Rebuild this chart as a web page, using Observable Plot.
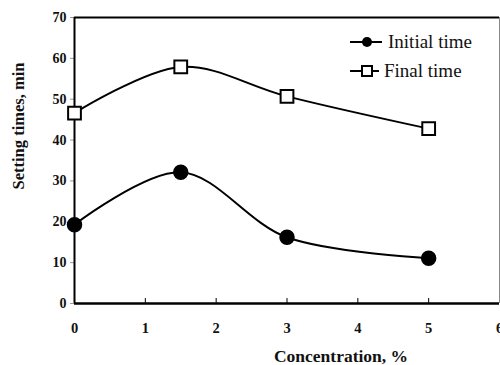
<!DOCTYPE html>
<html>
<head>
<meta charset="utf-8">
<script src="https://cdn.jsdelivr.net/npm/d3@7"></script>
<script src="https://cdn.jsdelivr.net/npm/@observablehq/plot@0.6"></script>
<style>
  html, body { margin: 0; padding: 0; background: #fff; }
  #wrap { position: relative; width: 500px; height: 365px; }
  #legend { position: absolute; left: 0; top: 0; pointer-events: none; }
</style>
</head>
<body>
<div id="wrap"></div>
<script>
const concentration = [0, 1.5, 3, 5];
const initialTime = [19.3, 32.1, 16.2, 11.1];
const finalTime = [46.6, 57.9, 50.7, 42.8];
const xTicks = [0, 1, 2, 3, 4, 5, 6];
const yTicks = [0, 10, 20, 30, 40, 50, 60, 70];
const seriesNames = ["Initial time", "Final time"];
const xLabel = "Concentration, %";
const yLabel = "Setting times, min";

const initialData = concentration.map((c, i) => ({c, v: initialTime[i]}));
const finalData = concentration.map((c, i) => ({c, v: finalTime[i]}));

const font = "'Liberation Serif', 'Times New Roman', serif";

const chart = Plot.plot({
  width: 500,
  height: 365,
  marginLeft: 74,
  marginRight: 1,
  marginTop: 17,
  marginBottom: 62,
  style: {fontFamily: font, background: "#fff"},
  x: {domain: [0, 6]},
  y: {domain: [0, 70]},
  marks: [
    Plot.axisY({ticks: yTicks, tickFormat: d => String(d), tickSize: 4, tickPadding: 4, label: null, fontSize: 14, fontWeight: "bold", stroke: "#999", fill: "#111"}),
    Plot.axisX({ticks: xTicks, tickFormat: d => String(d), tickSize: -5, tickPadding: 24, label: null, fontSize: 14.5, fontWeight: "bold", fill: "#111"}),
    Plot.ruleX([6], {stroke: "#888", strokeWidth: 1}),
    Plot.ruleY([70], {stroke: "#000", strokeWidth: 2.2}),
    Plot.ruleX([0], {stroke: "#000", strokeWidth: 2}),
    Plot.ruleY([0], {stroke: "#000", strokeWidth: 2.5}),
    Plot.line(initialData, {x: "c", y: "v", curve: "catmull-rom", stroke: "#000", strokeWidth: 2}),
    Plot.line(finalData, {x: "c", y: "v", curve: "catmull-rom", stroke: "#000", strokeWidth: 2}),
    Plot.dot(initialData, {x: "c", y: "v", r: 7, fill: "#000", stroke: "#000"}),
    Plot.dot(finalData, {x: "c", y: "v", symbol: "square", r: 7.2, fill: "#fff", stroke: "#000", strokeWidth: 2})
  ]
});

const wrap = document.getElementById("wrap");
wrap.appendChild(chart);

// legend and axis-title overlay
const ns = "http://www.w3.org/2000/svg";
const leg = document.createElementNS(ns, "svg");
leg.setAttribute("id", "legend");
leg.setAttribute("width", 500);
leg.setAttribute("height", 365);
function addText(str, attrs) {
  const t = document.createElementNS(ns, "text");
  for (const k in attrs) t.setAttribute(k, attrs[k]);
  t.setAttribute("font-family", font);
  t.setAttribute("fill", "#111");
  t.textContent = str;
  leg.appendChild(t);
}
const rows = [
  {name: seriesNames[0], y: 42, kind: "circle", x1: 350, x2: 382, tx: 388},
  {name: seriesNames[1], y: 71, kind: "square", x1: 350, x2: 379, tx: 384}
];
rows.forEach(r => {
  const ln = document.createElementNS(ns, "line");
  ln.setAttribute("x1", r.x1); ln.setAttribute("x2", r.x2);
  ln.setAttribute("y1", r.y); ln.setAttribute("y2", r.y);
  ln.setAttribute("stroke", "#000"); ln.setAttribute("stroke-width", 2);
  leg.appendChild(ln);
  if (r.kind === "circle") {
    const c = document.createElementNS(ns, "circle");
    c.setAttribute("cx", 367); c.setAttribute("cy", r.y); c.setAttribute("r", 5);
    c.setAttribute("fill", "#000");
    leg.appendChild(c);
  } else {
    const s = document.createElementNS(ns, "rect");
    s.setAttribute("x", 362); s.setAttribute("y", r.y - 5); s.setAttribute("width", 10); s.setAttribute("height", 10);
    s.setAttribute("fill", "#fff"); s.setAttribute("stroke", "#000"); s.setAttribute("stroke-width", 2);
    leg.appendChild(s);
  }
  addText(r.name, {x: r.tx, y: r.y + 6, "font-size": 19});
});
addText(yLabel, {transform: "translate(18,126) rotate(-90)", "text-anchor": "middle", "dominant-baseline": "central", "font-size": 16.5, "font-weight": "bold"});
addText(xLabel, {x: 341, y: 356, "text-anchor": "middle", "dominant-baseline": "central", "font-size": 17.5, "font-weight": "bold"});
wrap.appendChild(leg);
</script>
</body>
</html>
